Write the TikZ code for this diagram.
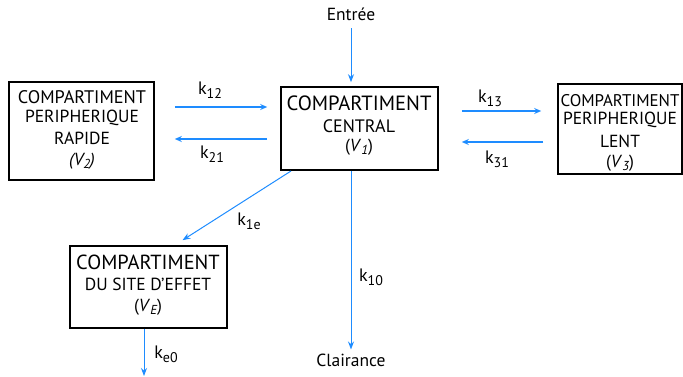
\documentclass[tikz,border=0pt]{standalone}
\usepackage{fontspec}
\setmainfont{PT Sans}
\usetikzlibrary{arrows.meta}
\definecolor{flow}{RGB}{30,140,255}
\newcommand{\ksub}[1]{k\raisebox{-0.4ex}{\fontsize{14}{14}\selectfont #1}}
\newcommand{\vsub}[1]{\raisebox{-0.4ex}{\fontsize{13}{13}\selectfont\itshape #1}}
\tikzset{
  box/.style={draw=black, line width=1.6pt, inner sep=0pt},
  txt/.style={inner sep=0pt, font=\fontsize{17.5}{19}\selectfont},
  ktxt/.style={inner sep=0pt, font=\fontsize{18}{19}\selectfont},
  thick flow/.style={draw=flow, line width=1.6pt, -{Stealth[length=7pt,width=6pt]}},
  thin flow/.style={draw=flow, line width=1pt, -{Stealth[length=8pt,width=6pt]}},
}
\begin{document}
\begin{tikzpicture}[x=1pt,y=-1pt]
\useasboundingbox (0,0) rectangle (683,376);
% boxes
\node[box, minimum width=145pt, minimum height=98pt] (v2) at (81.5,131) {};
\node[box, minimum width=157pt, minimum height=83pt] (v1) at (359.5,128.5) {};
\node[box, minimum width=124pt, minimum height=90pt] (v3) at (620,129) {};
\node[box, minimum width=157pt, minimum height=82pt] (ve) at (148.5,287) {};
% texts V2
\node[txt, font=\fontsize{18.2}{19}\selectfont] (v2a) at (82,97) {COMPARTIMENT};
\node[txt] (v2b) at (82,118) {PERIPHERIQUE};
\node[txt] (v2c) at (82,138) {RAPIDE};
\node[txt] (v2d) at (82,161) {\textit{(V\vsub{2})}};
% texts V1
\node[txt, font=\fontsize{20.6}{22}\selectfont] (v1a) at (359,103) {COMPARTIMENT};
\node[txt, font=\fontsize{18}{19}\selectfont] (v1b) at (359,126) {CENTRAL};
\node[txt] (v1c) at (359,147) {(\textit{V}\vsub{1})};
% texts V3
\node[txt, font=\fontsize{16.9}{19}\selectfont] (v3a) at (620,101) {COMPARTIMENT};
\node[txt] (v3b) at (620,120) {PERIPHERIQUE};
\node[txt] (v3c) at (620,141) {LENT};
\node[txt] (v3d) at (620,163) {(\textit{V}\vsub{3})};
% texts VE
\node[txt, font=\fontsize{20.4}{22}\selectfont] (vea) at (148,262) {COMPARTIMENT};
\node[txt] (veb) at (148,284) {DU SITE D'EFFET};
\node[txt] (vec) at (148,307) {(\textit{V}\vsub{E})};
% outer labels
\node[txt] (in) at (351,14) {Entrée};
\node[txt] (out) at (351,360) {Clairance};
\coordinate (inS) at (351,28);
\coordinate (ke0E) at (144,376);
% k labels
\node[ktxt] (k12) at (210,90) {\ksub{12}};
\node[ktxt] (k21) at (212,154) {\ksub{21}};
\node[ktxt] (k13) at (490,98) {\ksub{13}};
\node[ktxt] (k31) at (497,159) {\ksub{31}};
\node[ktxt] (k1e) at (249,221) {\ksub{1e}};
\node[ktxt] (k10) at (371,277) {\ksub{10}};
\node[ktxt] (ke0) at (166,354) {\ksub{e0}};
% connectors
\draw[thin flow] (inS) -- ([yshift=4pt]v1.north -| inS);
\draw[thick flow] ([xshift=20pt]v2.east |- 0,107) -- ([xshift=-13pt]v1.west |- 0,107);
\draw[thick flow] ([xshift=-13pt]v1.west |- 0,139) -- ([xshift=20pt]v2.east |- 0,139);
\draw[thick flow] ([xshift=23pt]v1.east |- 0,111) -- ([xshift=-16pt]v3.west |- 0,111);
\draw[thick flow] ([xshift=-14pt]v3.west |- 0,142) -- ([xshift=23pt]v1.east |- 0,142);
\draw[thin flow] (291,171) -- ([xshift=34pt,yshift=5pt]ve.north);
\draw[thin flow] (v1.south -| inS) -- ([yshift=4pt]out.north);
\draw[thin flow] (ve.south -| ke0E) -- (ke0E);
\end{tikzpicture}
\end{document}
